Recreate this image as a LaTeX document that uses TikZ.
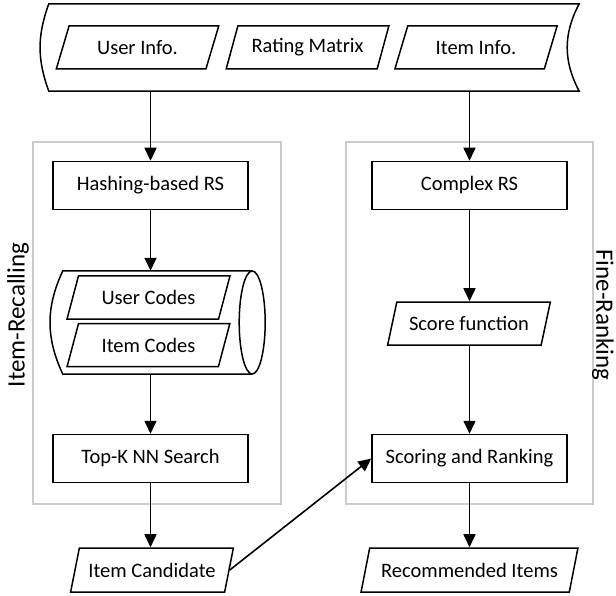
\documentclass[tikz,border=0pt]{standalone}
\usepackage{fontspec}
\setmainfont{Carlito}
\usetikzlibrary{shapes.geometric,arrows.meta}

\tikzset{
  proc/.style={draw, line width=1.5pt, minimum width=195pt, minimum height=48pt,
    inner sep=0pt, font=\fontsize{20.5}{24}\selectfont},
  data/.style={draw, line width=1.5pt, trapezium, trapezium left angle=62,
    trapezium right angle=118, trapezium stretches=true, minimum width=163pt,
    minimum height=43pt, inner sep=0pt, font=\fontsize{20.5}{24}\selectfont},
  flow/.style={line width=1.6pt, -{Triangle[length=13pt,width=12pt]}},
  group/.style={draw=black!20, line width=1.5pt},
  side/.style={font=\fontsize{25}{30}\selectfont}
}

\begin{document}
\begin{tikzpicture}[x=1pt,y=-1pt]
  \useasboundingbox (0,0) rectangle (616,596);

  % input store
  \node[minimum width=530pt, minimum height=87pt, inner sep=0pt] (store) at (314,47.5) {};
  \draw[line width=1.5pt] (store.south west) to[bend left=20] (store.north west)
    -- (store.north east) to[bend right=28] (store.south east) -- cycle;
  \node[data] (userinfo) at (137.5,47.5) {User Info.};
  \node[data] (ratingmat) at (307.5,47.5) {Rating Matrix};
  \node[data] (iteminfo) at (476,47.5) {Item Info.};

  % groups
  \draw[group] (33,142) rectangle (281,504);
  \draw[group] (346,142) rectangle (593,504);
  \node[side, rotate=90] (recalllab) at (18,315) {Item-Recalling};
  \node[side, rotate=-90] (ranklab) at (603,315) {Fine-Ranking};

  % item recalling
  \node[proc] (hashrs) at (150.5,185.5) {Hashing-based RS};
  \node[minimum width=189pt, minimum height=103pt, inner sep=0pt] (codes) at (157.5,322.5) {};
  \draw[line width=1.5pt] (codes.north east) -- (codes.north west)
    to[bend right=25] (codes.south west) -- (codes.south east);
  \draw[line width=1.5pt] (codes.east) ellipse [x radius=13pt, y radius=51.5pt];
  \node[data] (usercodes) at (148.5,297.5) {User Codes};
  \node[data] (itemcodes) at (148.5,345) {Item Codes};
  \node[proc] (topk) at (150.5,458.5) {Top-K NN Search};
  \node[data, minimum height=44pt] (itemcand) at (152,570) {Item Candidate};

  % fine ranking
  \node[proc] (complexrs) at (469.5,185.5) {Complex RS};
  \node[data] (scorefn) at (469,323.5) {Score function};
  \node[proc] (scoring) at (469.5,458.5) {Scoring and Ranking};
  \node[data, minimum width=217pt, minimum height=44pt] (recitems) at (469.5,570) {Recommended Items};

  % connectors
  \draw[flow] (store.south -| hashrs) -- (hashrs);
  \draw[flow] (store.south -| complexrs) -- (complexrs);
  \draw[flow] (hashrs.south) -- (hashrs.south |- codes.north);
  \draw[flow] (hashrs.south |- codes.south) -- (topk);
  \draw[flow] (topk) -- (topk |- itemcand.north);
  \draw[flow] (itemcand.east) -- (scoring.west);
  \draw[flow] (complexrs) -- (complexrs |- scorefn.north);
  \draw[flow] (complexrs |- scorefn.south) -- (scoring);
  \draw[flow] (scoring) -- (scoring |- recitems.north);
\end{tikzpicture}
\end{document}
